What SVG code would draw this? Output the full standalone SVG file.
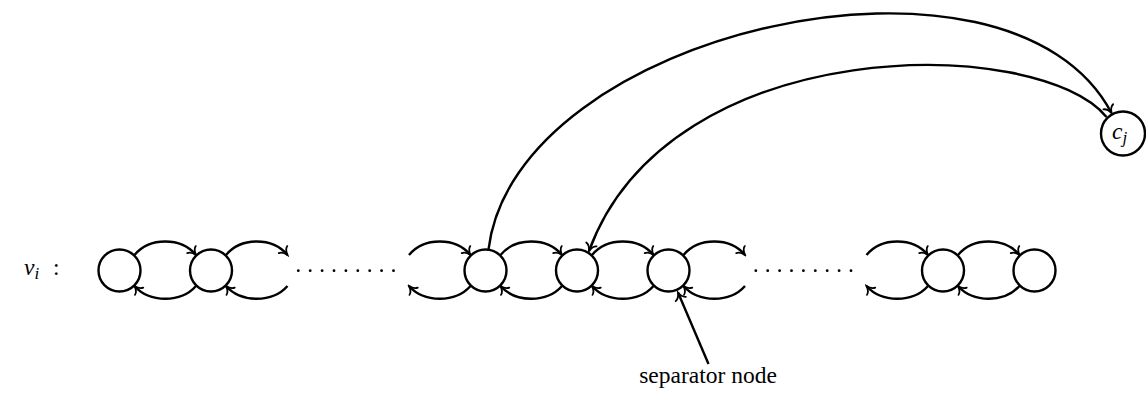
<svg xmlns="http://www.w3.org/2000/svg" width="1146" height="393" viewBox="0 0 1146 393">
<style>
.n{fill:#fff;stroke:#000;stroke-width:2.4}
.e{fill:none;stroke:#000;stroke-width:2.4;marker-end:url(#to)}
.t{font-family:"Liberation Serif",serif;font-size:23.5px;fill:#000}
.m{font-style:italic}
.d{fill:#000}
</style>
<defs>
<marker id="to" markerUnits="userSpaceOnUse" viewBox="-9 -8 11 16" markerWidth="11" markerHeight="16" refX="0" refY="0" orient="auto">
<path d="M-7,-5.5 C-6,-2.2 -2.5,-0.7 0,0 C-2.5,0.7 -6,2.2 -7,5.5" fill="none" stroke="#000" stroke-width="1.8" stroke-linecap="round"/>
</marker>
</defs>
<g id="connectors">
<path class="e" d="M134.5,255 C149.5,237 181,237 196,255"/>
<path class="e" d="M196,286 C181,303 149.5,303 134.5,286"/>
<path class="e" d="M226,255 C241,237 272.5,237 287.5,255"/>
<path class="e" d="M287.5,286 C272.5,303 241,303 226,286"/>
<path class="e" d="M409,255 C424,237 455.5,237 470.5,255"/>
<path class="e" d="M470.5,286 C455.5,303 424,303 409,286"/>
<path class="e" d="M500.5,255 C515.5,237 547,237 562,255"/>
<path class="e" d="M562,286 C547,303 515.5,303 500.5,286"/>
<path class="e" d="M592,255 C607,237 638.5,237 653.5,255"/>
<path class="e" d="M653.5,286 C638.5,303 607,303 592,286"/>
<path class="e" d="M683.5,255 C698.5,237 730,237 745,255"/>
<path class="e" d="M745,286 C730,303 698.5,303 683.5,286"/>
<path class="e" d="M866.5,255 C881.5,237 913,237 928,255"/>
<path class="e" d="M928,286 C913,303 881.5,303 866.5,286"/>
<path class="e" d="M958,255 C973,237 1004.5,237 1019.5,255"/>
<path class="e" d="M1019.5,286 C1004.5,303 973,303 958,286"/>
<path class="e" d="M488.5,249.5 C515,30 1010,-80 1111.5,113"/>
<path class="e" d="M1106.5,117 C1040,35 670,30 589,251"/>
<path class="e" d="M708.5,364 L678,292.5"/>
</g>
<g id="dots1">
<circle class="d" cx="298.3" cy="270.7" r="1.4"/><circle class="d" cx="310.2" cy="270.7" r="1.4"/><circle class="d" cx="322.1" cy="270.7" r="1.4"/><circle class="d" cx="334" cy="270.7" r="1.4"/><circle class="d" cx="345.9" cy="270.7" r="1.4"/><circle class="d" cx="357.8" cy="270.7" r="1.4"/><circle class="d" cx="369.7" cy="270.7" r="1.4"/><circle class="d" cx="381.6" cy="270.7" r="1.4"/><circle class="d" cx="393.5" cy="270.7" r="1.4"/>
</g>
<g id="dots2">
<circle class="d" cx="755.8" cy="270.7" r="1.4"/><circle class="d" cx="767.7" cy="270.7" r="1.4"/><circle class="d" cx="779.6" cy="270.7" r="1.4"/><circle class="d" cx="791.5" cy="270.7" r="1.4"/><circle class="d" cx="803.4" cy="270.7" r="1.4"/><circle class="d" cx="815.3" cy="270.7" r="1.4"/><circle class="d" cx="827.2" cy="270.7" r="1.4"/><circle class="d" cx="839.1" cy="270.7" r="1.4"/><circle class="d" cx="851" cy="270.7" r="1.4"/>
</g>
<g id="label-vi">
<text class="t m" x="24" y="275">v<tspan font-size="17" dy="4">i</tspan></text>
<text class="t" x="53" y="275">:</text>
</g>
<g id="node0"><circle class="n" cx="119.5" cy="270.5" r="21"/></g>
<g id="node1"><circle class="n" cx="211" cy="270.5" r="21"/></g>
<g id="node4"><circle class="n" cx="485.5" cy="270.5" r="21"/></g>
<g id="node5"><circle class="n" cx="577" cy="270.5" r="21"/></g>
<g id="node6"><circle class="n" cx="668.5" cy="270.5" r="21"/></g>
<g id="node9"><circle class="n" cx="943" cy="270.5" r="21"/></g>
<g id="node10"><circle class="n" cx="1034.5" cy="270.5" r="21"/></g>
<g id="node-cj">
<circle class="n" cx="1123" cy="133.5" r="22"/>
<text class="t m" x="1112" y="139">c<tspan font-size="17" dy="4">j</tspan></text>
</g>
<g id="label-separator">
<text class="t" x="708" y="383" text-anchor="middle">separator node</text>
</g>
</svg>
